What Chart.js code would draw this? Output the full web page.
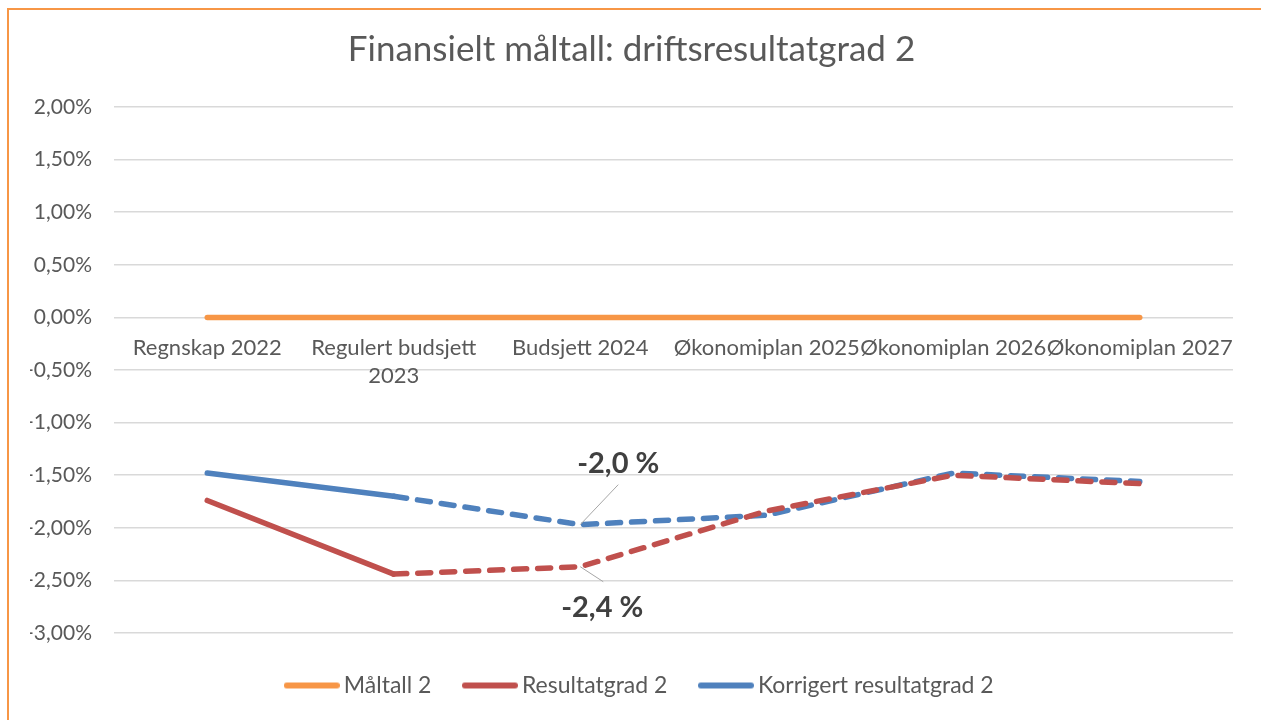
<!DOCTYPE html>
<html>
<head>
<meta charset="utf-8">
<script src="https://cdn.jsdelivr.net/npm/chart.js@4/dist/chart.umd.min.js"></script>
<style>
  html, body { margin: 0; padding: 0; background: #fff; overflow: hidden; }
  #wrap { position: absolute; left: 0; top: 0; width: 1261px; height: 720px; }
</style>
</head>
<body>
<div id="wrap"><canvas id="chart"></canvas></div>
<script>
var categories = ["Regnskap 2022", ["Regulert budsjett", "2023"], "Budsjett 2024",
  "Økonomiplan 2025", "Økonomiplan 2026", "Økonomiplan 2027"];
var maltall = [0, 0, 0, 0, 0, 0];
var resultatgrad = [-1.74, -2.44, -2.37, -1.84, -1.50, -1.58];
var korrigert = [-1.48, -1.70, -1.97, -1.88, -1.48, -1.56];
var yMin = -3, yMax = 2, yStep = 0.5;

var FONT = "Lato";
var TEXT = "#595959";
var ORANGE = "#F79646", RED = "#C0504D", BLUE = "#4F81BD";

function pct(v, d) {
  return v.toFixed(d).replace(".", ",");
}

// legend swatch: a short thick line with round ends
function swatch(color) {
  var c = document.createElement("canvas");
  c.width = 56;
  c.height = 8;
  var g = c.getContext("2d");
  g.strokeStyle = color;
  g.lineWidth = 6;
  g.lineCap = "round";
  g.beginPath();
  g.moveTo(3, 4);
  g.lineTo(53, 4);
  g.stroke();
  return c;
}

// first segment solid, the rest dashed (plan figures)
var dashAfterFirst = {
  borderDash: function (c) { return c.p0DataIndex >= 1 ? [13, 11] : undefined; }
};

// orange frame round the chart (only left and top edge are inside the picture)
var framePlugin = {
  id: "frame",
  beforeDraw: function (chart) {
    var ctx = chart.ctx;
    ctx.save();
    ctx.fillStyle = ORANGE;
    ctx.fillRect(7, 8, 2, chart.height - 8);
    ctx.fillRect(7, 8, chart.width - 7, 2);
    ctx.restore();
  },
  // nudge the legend a little to the right, as in the original
  afterLayout: function (chart) {
    chart.legend.left += 11;
    chart.legend.right += 11;
  }
};

// call-out labels with a thin leader line
var callouts = [
  { series: 2, index: 2, dx: 38, dy: -61, lx: 38, ly: -40 },
  { series: 1, index: 2, dx: 22, dy: 41, lx: 23, ly: 15 }
];

var calloutPlugin = {
  id: "callouts",
  afterDatasetsDraw: function (chart) {
    var ctx = chart.ctx;
    callouts.forEach(function (c) {
      var pt = chart.getDatasetMeta(c.series).data[c.index];
      var v = chart.data.datasets[c.series].data[c.index];
      ctx.save();
      ctx.strokeStyle = "#A6A6A6";
      ctx.lineWidth = 1;
      ctx.beginPath();
      ctx.moveTo(pt.x, pt.y);
      ctx.lineTo(pt.x + c.lx, pt.y + c.ly);
      ctx.stroke();
      ctx.fillStyle = "#404040";
      ctx.font = "bold 29px " + FONT;
      ctx.textAlign = "center";
      ctx.textBaseline = "middle";
      ctx.fillText(pct(v, 1) + " %", pt.x + c.dx, pt.y + c.dy);
      ctx.restore();
    });
  }
};

new Chart(document.getElementById("chart"), {
  type: "line",
  data: {
    labels: categories,
    datasets: [
      { label: "Måltall 2", data: maltall, borderColor: ORANGE, backgroundColor: ORANGE,
        borderWidth: 5.5, borderCapStyle: "round", pointRadius: 0, pointStyle: swatch(ORANGE) },
      { label: "Resultatgrad 2", data: resultatgrad, borderColor: RED, backgroundColor: RED,
        borderWidth: 5.5, borderCapStyle: "round", borderJoinStyle: "round", pointRadius: 0,
        pointStyle: swatch(RED), segment: dashAfterFirst },
      { label: "Korrigert resultatgrad 2", data: korrigert, borderColor: BLUE, backgroundColor: BLUE,
        borderWidth: 5.5, borderCapStyle: "round", borderJoinStyle: "round", pointRadius: 0,
        pointStyle: swatch(BLUE), segment: dashAfterFirst }
    ]
  },
  plugins: [framePlugin, calloutPlugin],
  options: {
    responsive: true,
    maintainAspectRatio: false,
    animation: false,
    layout: { padding: { top: 11, left: 30, right: 28, bottom: 13 } },
    plugins: {
      title: {
        display: true,
        text: "Finansielt måltall: driftsresultatgrad 2",
        color: TEXT,
        font: { family: FONT, size: 35, weight: "normal" },
        padding: { top: 18, bottom: 36 }
      },
      legend: {
        position: "bottom",
        title: { display: true, text: "", font: { size: 3, lineHeight: 1 }, padding: 0 },
        labels: {
          color: TEXT,
          font: { family: FONT, size: 23 },
          usePointStyle: true,
          pointStyleWidth: 41,
          padding: 38
        }
      },
      tooltip: { enabled: false }
    },
    scales: {
      x: {
        position: { y: 0 },
        offset: true,
        grid: { display: false, drawTicks: false },
        border: { display: false },
        ticks: {
          color: TEXT,
          font: { family: FONT, size: 22, lineHeight: 1.3 },
          autoSkip: false,
          maxRotation: 0,
          padding: 16
        }
      },
      y: {
        min: yMin,
        max: yMax,
        border: { display: false },
        grid: { color: "#D9D9D9", lineWidth: 1.5, drawTicks: false },
        ticks: {
          stepSize: yStep,
          color: TEXT,
          font: { family: FONT, size: 21 },
          padding: 22,
          callback: function (v) { return pct(v, 2) + "%"; }
        },
        afterFit: function (scale) { scale.width = 84; }
      }
    }
  }
});
</script>
</body>
</html>
